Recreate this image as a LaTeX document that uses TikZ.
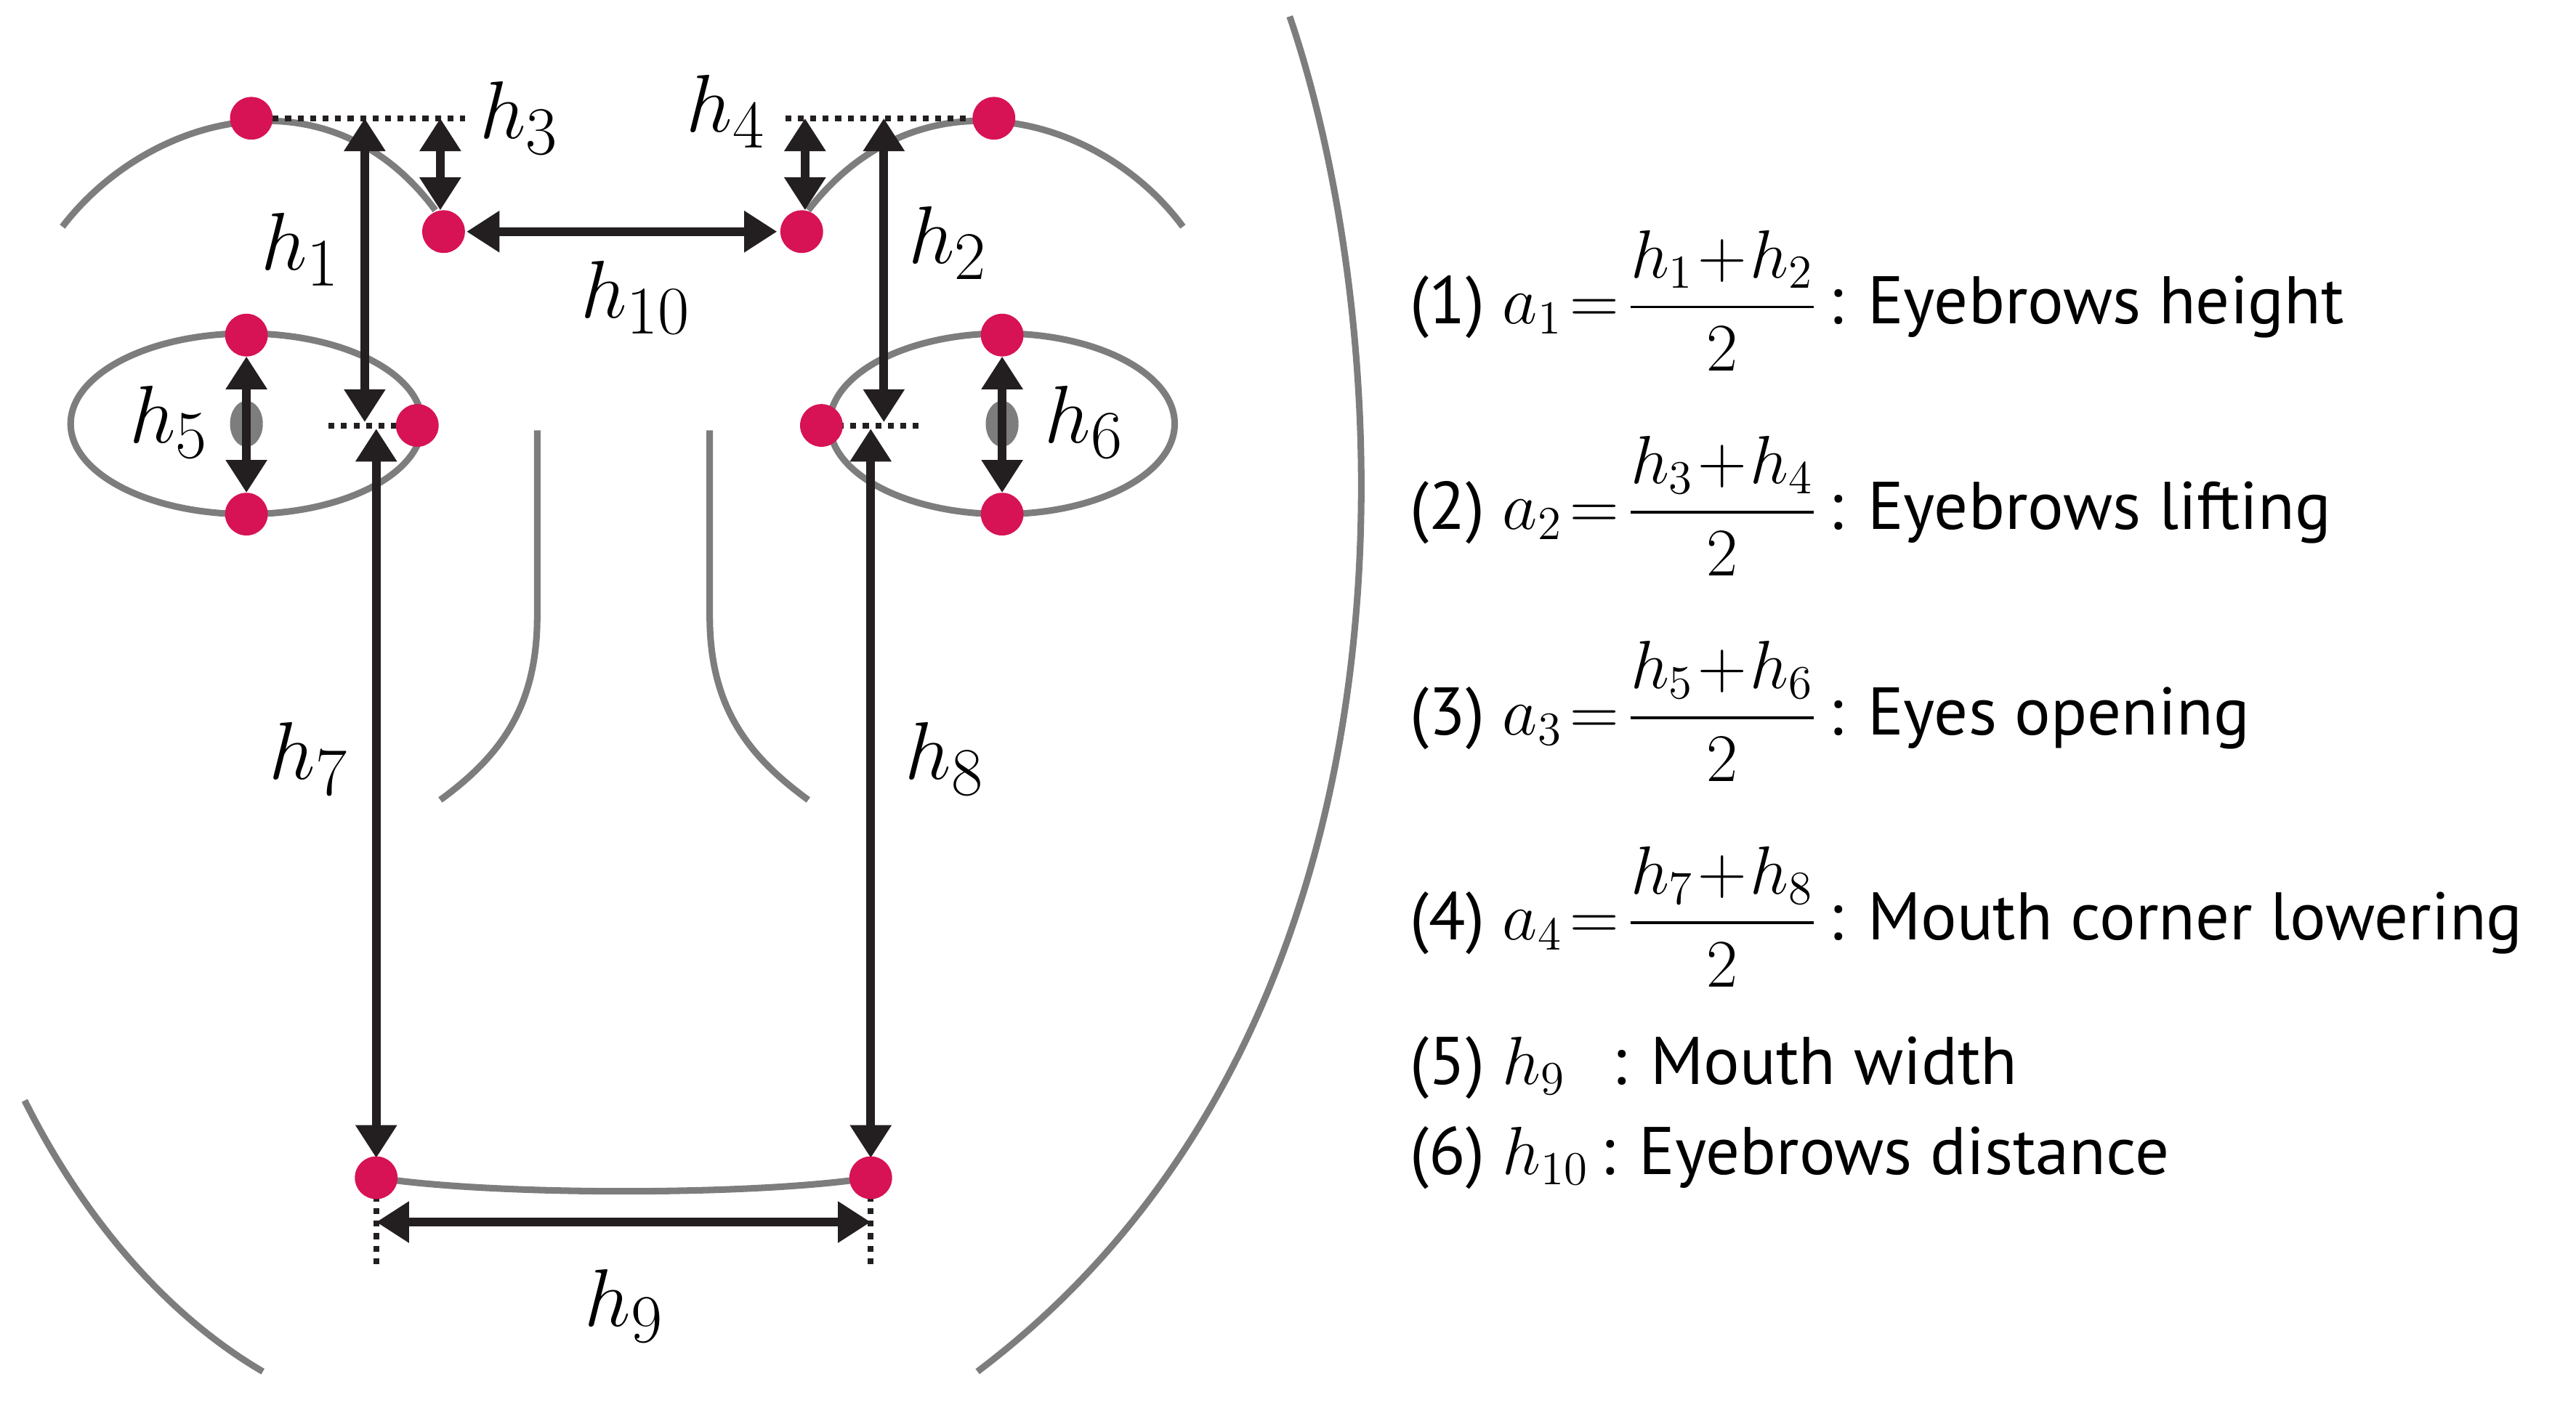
\documentclass[tikz,border=0pt]{standalone}
\usepackage{fontspec}
\setmainfont{PT Sans}
\usepackage{amsmath}
\usetikzlibrary{arrows.meta}
\definecolor{dotred}{RGB}{215,18,85}
\definecolor{lg}{RGB}{125,125,125}
\definecolor{ink}{RGB}{35,31,32}
\begin{document}
\begin{tikzpicture}[x=0.5pt,y=-0.5pt,
  face/.style={lg,line width=2pt},
  dot/.style={circle,fill=dotred,inner sep=0pt,minimum size=13pt},
  dim/.style={ink,line width=2.6pt,{Triangle[width=12pt,length=10pt]}-{Triangle[width=12pt,length=10pt]}},
  dotl/.style={ink,line width=1.8pt,dotted},
  lab/.style={font=\fontsize{29}{32}\selectfont},
  txt/.style={anchor=west,font=\fontsize{20.5}{24}\selectfont,inner sep=0pt}]
\useasboundingbox (0,0) rectangle (1568,857);
% face
\draw[face] (785,10) .. controls (850,200) and (880,620) .. (595,835);
\draw[face] (15,670) .. controls (50,740) and (100,800) .. (160,835);
\draw[face] (38,138) .. controls (90,70) and (200,40) .. (265,128);
\draw[face] (492,128) .. controls (560,40) and (670,70) .. (720,138);
\draw[face] (150,258) ellipse [x radius=107,y radius=55];
\draw[face] (610,258) ellipse [x radius=105,y radius=55];
\fill[lg] (150,258) ellipse [x radius=10,y radius=14];
\fill[lg] (610,258) ellipse [x radius=10,y radius=14];
\draw[face] (327,262) -- (327,375) .. controls (327,430) and (305,460) .. (268,487);
\draw[face] (432,262) -- (432,375) .. controls (432,430) and (455,460) .. (492,487);
\draw[face] (229,717) .. controls (300,728) and (460,728) .. (530,717);
% dotted
\draw[dotl] (166,72) -- (283,72);
\draw[dotl] (478,72) -- (592,72);
\draw[dotl] (200,259) -- (245,259);
\draw[dotl] (510,259) -- (560,259);
\draw[dotl] (229,728) -- (229,770);
\draw[dotl] (530,728) -- (530,770);
% coordinates
\coordinate (a1) at (222,72); \coordinate (b1) at (222,257);
\coordinate (a2) at (538,72); \coordinate (b2) at (538,257);
\coordinate (a3) at (268,72); \coordinate (b3) at (268,128);
\coordinate (a4) at (490,72); \coordinate (b4) at (490,128);
\coordinate (a10) at (284,141); \coordinate (b10) at (473,141);
\coordinate (a5) at (150,217); \coordinate (b5) at (150,300);
\coordinate (a6) at (610,217); \coordinate (b6) at (610,300);
\coordinate (a7) at (229,261); \coordinate (b7) at (229,705);
\coordinate (a8) at (530,261); \coordinate (b8) at (530,705);
\coordinate (a9) at (229,744); \coordinate (b9) at (530,744);
\foreach \i in {1,...,10} {\draw[dim] (a\i) -- (b\i);}
% dots
\node[dot] (d1) at (153,72) {};
\node[dot] (d2) at (605,72) {};
\node[dot] (d3) at (270,141) {};
\node[dot] (d4) at (488,141) {};
\node[dot] (d5) at (150,204) {};
\node[dot] (d6) at (150,313) {};
\node[dot] (d7) at (254,259) {};
\node[dot] (d8) at (500,259) {};
\node[dot] (d9) at (610,204) {};
\node[dot] (d10) at (610,313) {};
\node[dot] (d11) at (229,717) {};
\node[dot] (d12) at (530,717) {};
% labels
\node[lab] (l1) at (183,152) {$h_1$};
\node[lab] (l2) at (577,148) {$h_2$};
\node[lab] (l3) at (316,72) {$h_3$};
\node[lab] (l4) at (442,68) {$h_4$};
\node[lab] (l10) at (387,181) {$h_{10}$};
\node[lab] (l5) at (103,257) {$h_5$};
\node[lab] (l6) at (660,257) {$h_6$};
\node[lab] (l7) at (188,462) {$h_7$};
\node[lab] (l8) at (575,462) {$h_8$};
\node[lab] (l9) at (380,795) {$h_9$};
% right text
\node[txt] (t1) at (858,183) {(1) $a_1\!=\!\dfrac{h_1\!+\!h_2}{2}$\,: Eyebrows height};
\node[txt] (t2) at (858,308) {(2) $a_2\!=\!\dfrac{h_3\!+\!h_4}{2}$\,: Eyebrows lifting};
\node[txt] (t3) at (858,433) {(3) $a_3\!=\!\dfrac{h_5\!+\!h_6}{2}$\,: Eyes opening};
\node[txt] (t4) at (858,558) {(4) $a_4\!=\!\dfrac{h_7\!+\!h_8}{2}$\,: Mouth corner lowering};
\node[txt] (t5) at (858,650) {(5) $h_9$\hspace{14pt}: Mouth width};
\node[txt] (t6) at (858,705) {(6) $h_{10}$\,: Eyebrows distance};
\end{tikzpicture}
\end{document}
